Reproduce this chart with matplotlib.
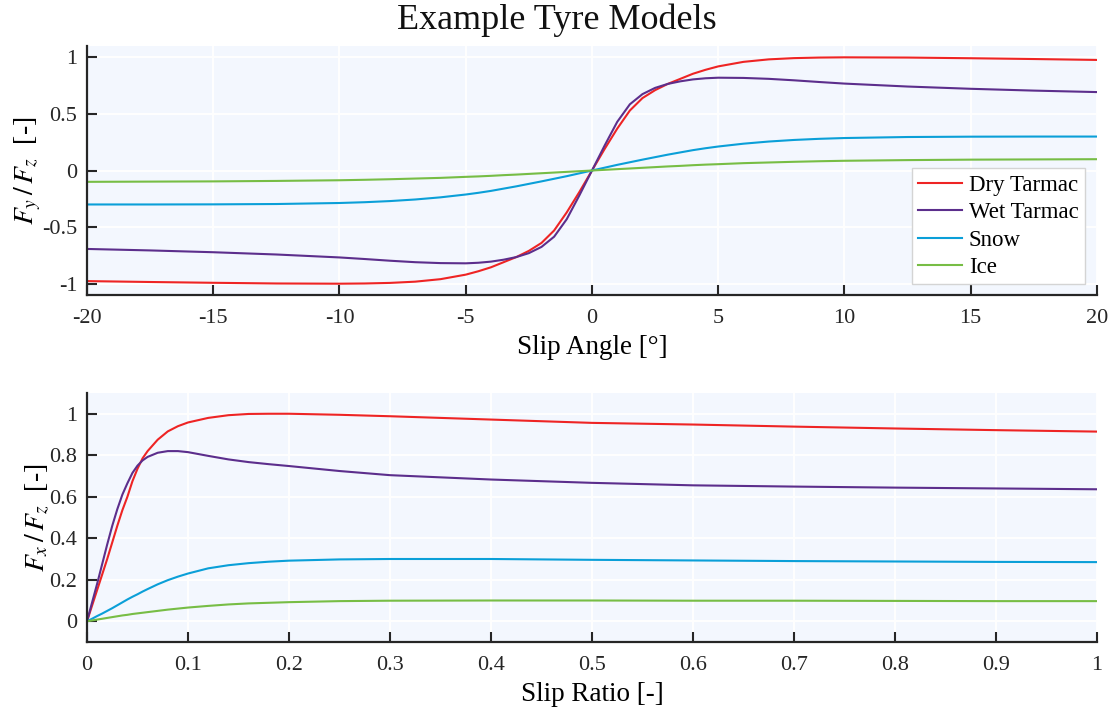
import matplotlib
matplotlib.use("Agg")
import matplotlib.pyplot as plt

# ---- data ----
surfaces = ["Dry Tarmac", "Wet Tarmac", "Snow", "Ice"]
colours = ["#ee2424", "#5c2e8c", "#0a9fd8", "#77bd45"]

# lateral: slip angle [deg] vs Fy/Fz
slip_angle = [-20, -17.5, -15, -12.5, -10, -9, -8, -7, -6, -5, -4.5, -4, -3.5, -3, -2.5, -2, -1.5, -1, -0.5,
              0, 0.5, 1, 1.5, 2, 2.5, 3, 3.5, 4, 4.5, 5, 6, 7, 8, 9, 10, 12.5, 15, 17.5, 20]
fy_dry = [-0.977, -0.985, -0.992, -0.998, -1.0, -0.998, -0.993, -0.982, -0.96, -0.92, -0.89, -0.855, -0.81,
          -0.765, -0.71, -0.64, -0.53, -0.37, -0.19,
          0, 0.19, 0.37, 0.53, 0.64, 0.71, 0.765, 0.81, 0.855, 0.89, 0.92, 0.96, 0.982, 0.993, 0.998, 1.0,
          0.998, 0.992, 0.985, 0.977]
fy_wet = [-0.693, -0.706, -0.722, -0.742, -0.768, -0.782, -0.797, -0.81, -0.818, -0.82, -0.815, -0.805, -0.788,
          -0.765, -0.73, -0.675, -0.585, -0.43, -0.22,
          0, 0.22, 0.43, 0.585, 0.675, 0.73, 0.765, 0.788, 0.805, 0.815, 0.82, 0.818, 0.81, 0.797, 0.782, 0.768,
          0.742, 0.722, 0.706, 0.693]
fy_snow = [-0.3, -0.3, -0.299, -0.296, -0.287, -0.28, -0.27, -0.256, -0.237, -0.212, -0.197, -0.18, -0.16,
           -0.14, -0.118, -0.096, -0.073, -0.05, -0.025,
           0, 0.025, 0.05, 0.073, 0.096, 0.118, 0.14, 0.16, 0.18, 0.197, 0.212, 0.237, 0.256, 0.27, 0.28, 0.287,
           0.296, 0.299, 0.3, 0.3]
fy_ice = [-0.1, -0.098, -0.096, -0.092, -0.086, -0.082, -0.077, -0.071, -0.065, -0.056, -0.052, -0.047, -0.041,
          -0.036, -0.03, -0.024, -0.018, -0.012, -0.006,
          0, 0.006, 0.012, 0.018, 0.024, 0.03, 0.036, 0.041, 0.047, 0.052, 0.056, 0.065, 0.071, 0.077, 0.082, 0.086,
          0.092, 0.096, 0.098, 0.1]

# longitudinal: slip ratio vs Fx/Fz
slip_ratio = [0, 0.005, 0.01, 0.015, 0.02, 0.025, 0.03, 0.035, 0.04, 0.045, 0.05, 0.055, 0.06, 0.07, 0.08, 0.09,
              0.1, 0.12, 0.14, 0.16, 0.18, 0.2, 0.25, 0.3, 0.4, 0.5, 0.6, 0.7, 0.8, 0.9, 1.0]
fx_dry = [0, 0.075, 0.15, 0.225, 0.30, 0.38, 0.46, 0.535, 0.60, 0.675, 0.735, 0.785, 0.82, 0.875, 0.915, 0.94,
          0.958, 0.98, 0.993, 0.999, 1.0, 1.0, 0.995, 0.988, 0.972, 0.956, 0.948, 0.938, 0.929, 0.921, 0.914]
fx_wet = [0, 0.09, 0.18, 0.275, 0.37, 0.46, 0.54, 0.61, 0.665, 0.715, 0.75, 0.775, 0.792, 0.812, 0.82, 0.82,
          0.815, 0.797, 0.78, 0.767, 0.757, 0.748, 0.724, 0.704, 0.683, 0.667, 0.655, 0.649, 0.644, 0.64, 0.636]
fx_snow = [0, 0.012, 0.025, 0.037, 0.05, 0.063, 0.077, 0.091, 0.105, 0.118, 0.13, 0.143, 0.155, 0.178, 0.198,
           0.215, 0.23, 0.255, 0.27, 0.28, 0.287, 0.292, 0.298, 0.3, 0.3, 0.296, 0.293, 0.29, 0.288, 0.286, 0.285]
fx_ice = [0, 0.004, 0.008, 0.012, 0.016, 0.02, 0.024, 0.028, 0.031, 0.035, 0.038, 0.041, 0.044, 0.05, 0.056,
          0.061, 0.066, 0.074, 0.081, 0.086, 0.089, 0.092, 0.097, 0.099, 0.1, 0.1, 0.099, 0.099, 0.098, 0.097, 0.097]

angle_ticks = [-20, -15, -10, -5, 0, 5, 10, 15, 20]
angle_labels = ["-20", "-15", "-10", "-5", "0", "5", "10", "15", "20"]
fy_ticks = [-1, -0.5, 0, 0.5, 1]
fy_labels = ["-1", "-0.5", "0", "0.5", "1"]
ratio_ticks = [0, 0.1, 0.2, 0.3, 0.4, 0.5, 0.6, 0.7, 0.8, 0.9, 1]
ratio_labels = ["0", "0.1", "0.2", "0.3", "0.4", "0.5", "0.6", "0.7", "0.8", "0.9", "1"]
fx_ticks = [0, 0.2, 0.4, 0.6, 0.8, 1]
fx_labels = ["0", "0.2", "0.4", "0.6", "0.8", "1"]

plt.rcParams["font.family"] = ["Liberation Serif", "DejaVu Serif"]
plt.rcParams["mathtext.fontset"] = "stix"

fig = plt.figure(figsize=(11.14, 7.09), dpi=100)
ax1 = fig.add_axes([0.0781, 0.5839, 0.9066, 0.3512])
ax2 = fig.add_axes([0.0781, 0.0945, 0.9066, 0.3512])


def style(ax):
    ax.set_facecolor("#f3f7fe")
    ax.grid(True, color="white", linewidth=1.4)
    ax.set_axisbelow(True)
    for s in ["top", "right"]:
        ax.spines[s].set_visible(False)
    for s in ["left", "bottom"]:
        ax.spines[s].set_color("#262626")
        ax.spines[s].set_linewidth(1.6)
    ax.tick_params(direction="in", length=7, width=1.5, color="#262626",
                   labelsize=16, labelcolor="#262626")
    ax.tick_params(axis="x", pad=10)
    ax.tick_params(axis="y", pad=7)


fy_all = [fy_dry, fy_wet, fy_snow, fy_ice]
fx_all = [fx_dry, fx_wet, fx_snow, fx_ice]

# Top: lateral
for name, c, fy in zip(surfaces, colours, fy_all):
    ax1.plot(slip_angle, fy, color=c, linewidth=1.5, label=name)
style(ax1)
ax1.set_xlim(-20, 20)
ax1.set_ylim(-1.1, 1.1)
ax1.set_xticks(angle_ticks, angle_labels)
ax1.set_yticks(fy_ticks, fy_labels)
ax1.set_xlabel("Slip Angle [°]", fontsize=19.5, labelpad=5)
ax1.set_ylabel(r"$F_y\,/\,F_z$  [-]", fontsize=20, labelpad=-1)
leg = ax1.legend(loc="lower right", bbox_to_anchor=(0.995, 0.015), fontsize=16.5, frameon=True,
                 fancybox=False, edgecolor="#d4d4d4", framealpha=1, handlelength=1.9,
                 handletextpad=0.3, borderpad=0.28, labelspacing=0.28, borderaxespad=0.3)
leg.get_frame().set_linewidth(1.0)

# Bottom: longitudinal
for name, c, fx in zip(surfaces, colours, fx_all):
    ax2.plot(slip_ratio, fx, color=c, linewidth=1.5, label=name)
style(ax2)
ax2.set_xlim(0, 1)
ax2.set_ylim(-0.1, 1.1)
ax2.set_xticks(ratio_ticks, ratio_labels)
ax2.set_yticks(fx_ticks, fx_labels)
ax2.set_xlabel("Slip Ratio [-]", fontsize=19.5, labelpad=5)
ax2.set_ylabel(r"$F_x\,/\,F_z$  [-]", fontsize=20, labelpad=-1)

fig.text(0.5, 0.972, "Example Tyre Models", ha="center", va="center", fontsize=26, color="#111111")

fig.savefig("out.png", dpi=100)
